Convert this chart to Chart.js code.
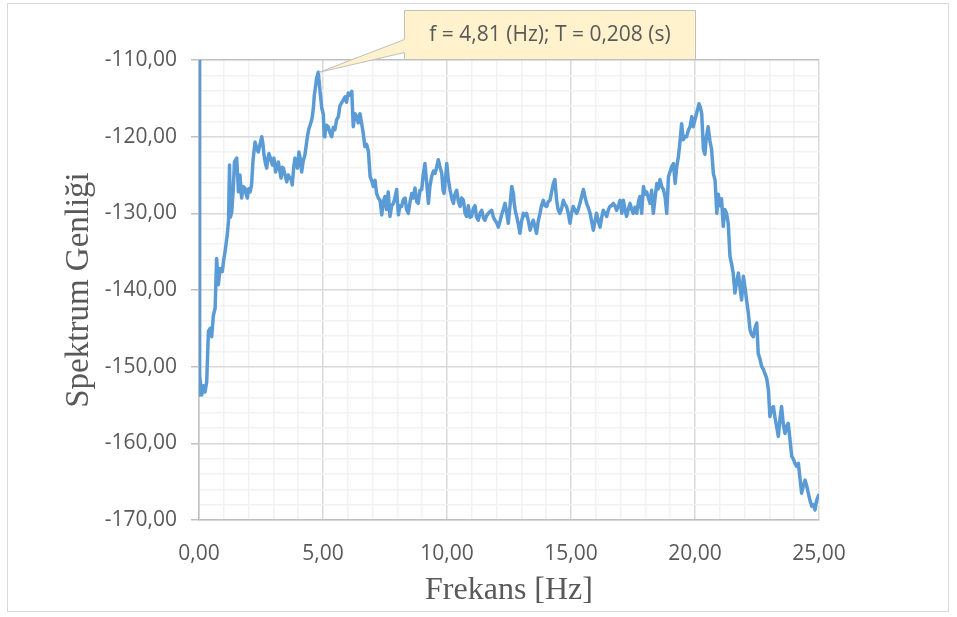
<!DOCTYPE html>
<html>
<head>
<meta charset="utf-8">
<script src="https://cdn.jsdelivr.net/npm/chart.js@4"></script>
<style>
  html, body { margin: 0; padding: 0; background: #ffffff; }
  canvas { display: block; }
</style>
</head>
<body>
<canvas id="c" width="957" height="617"></canvas>
<script>
// Frequency axis values (Hz)
const freq = [
  0.00, 0.01, 0.04, 0.11, 0.18, 0.24, 0.31, 0.38, 0.45, 0.51, 0.58, 0.65, 0.71, 0.78, 0.85, 0.94,
  1.00, 1.05, 1.14, 1.19, 1.23, 1.27, 1.32, 1.38, 1.43, 1.52, 1.59, 1.65, 1.72, 1.78, 1.85, 1.90, 1.95,
  2.00, 2.06, 2.12, 2.18, 2.26, 2.32, 2.39, 2.46, 2.53, 2.58, 2.62, 2.68, 2.73, 2.78, 2.82, 2.90, 2.96,
  3.02, 3.09, 3.15, 3.20, 3.26, 3.31, 3.36, 3.40, 3.47, 3.54, 3.60, 3.67, 3.72, 3.76, 3.82, 3.87, 3.92, 3.97,
  4.03, 4.09, 4.14, 4.20, 4.27, 4.33, 4.38, 4.43, 4.48, 4.53, 4.57, 4.62, 4.65, 4.70, 4.74, 4.81, 4.85, 4.88, 4.95,
  5.01, 5.05, 5.08, 5.14, 5.21, 5.28, 5.35, 5.41, 5.48, 5.55, 5.62, 5.68, 5.75, 5.82, 5.89, 5.95,
  6.02, 6.09, 6.16, 6.22, 6.29, 6.36, 6.42, 6.49, 6.56, 6.62, 6.69, 6.76, 6.83, 6.90, 6.97,
  7.03, 7.10, 7.16, 7.23, 7.30, 7.37, 7.43, 7.50, 7.56, 7.63, 7.70, 7.77, 7.84, 7.90, 7.97,
  8.04, 8.10, 8.17, 8.24, 8.31, 8.37, 8.44, 8.51, 8.58, 8.64, 8.71, 8.78, 8.84, 8.91, 8.98,
  9.04, 9.11, 9.18, 9.25, 9.31, 9.38, 9.45, 9.52, 9.58, 9.65, 9.72, 9.79, 9.84, 9.88, 9.94, 9.99,
  10.05, 10.12, 10.19, 10.26, 10.32, 10.39, 10.46, 10.53, 10.59, 10.66, 10.73, 10.79, 10.86, 10.93, 10.99,
  11.06, 11.13, 11.19, 11.26, 11.33, 11.40, 11.47, 11.53, 11.60, 11.67, 11.73, 11.80, 11.87, 11.93,
  12.00, 12.07, 12.14, 12.20, 12.27, 12.34, 12.40, 12.47, 12.54, 12.61, 12.68, 12.71, 12.76, 12.81, 12.88, 12.94,
  13.01, 13.08, 13.14, 13.21, 13.28, 13.35, 13.41, 13.48, 13.55, 13.61, 13.68, 13.75, 13.81, 13.88, 13.95,
  14.02, 14.08, 14.15, 14.22, 14.29, 14.35, 14.42, 14.48, 14.55, 14.62, 14.69, 14.75, 14.82, 14.89, 14.96,
  15.02, 15.09, 15.16, 15.23, 15.29, 15.36, 15.43, 15.50, 15.56, 15.63, 15.70, 15.77, 15.83, 15.90, 15.97,
  16.03, 16.10, 16.17, 16.24, 16.30, 16.37, 16.44, 16.51, 16.57, 16.64, 16.71, 16.77, 16.84, 16.91, 16.98,
  17.05, 17.11, 17.18, 17.24, 17.31, 17.38, 17.45, 17.51, 17.58, 17.65, 17.72, 17.78, 17.85, 17.92, 17.99,
  18.05, 18.12, 18.19, 18.25, 18.32, 18.39, 18.46, 18.52, 18.59, 18.66, 18.73, 18.80, 18.86, 18.93,
  19.00, 19.06, 19.13, 19.20, 19.26, 19.33, 19.40, 19.46, 19.53, 19.60, 19.66, 19.73, 19.80, 19.87, 19.93, 19.98,
  20.03, 20.10, 20.16, 20.22, 20.27, 20.34, 20.40, 20.46, 20.53, 20.60, 20.67, 20.74, 20.81, 20.88, 20.94,
  21.00, 21.07, 21.14, 21.20, 21.27, 21.34, 21.41, 21.47, 21.54, 21.61, 21.68, 21.75, 21.81, 21.88, 21.95,
  22.01, 22.08, 22.15, 22.22, 22.28, 22.35, 22.42, 22.49, 22.55, 22.62, 22.69, 22.75, 22.82, 22.89, 22.96,
  23.02, 23.09, 23.16, 23.22, 23.29, 23.36, 23.42, 23.49, 23.56, 23.63, 23.69, 23.76, 23.83, 23.90, 23.96,
  24.03, 24.10, 24.17, 24.23, 24.30, 24.37, 24.44, 24.50, 24.57, 24.64, 24.71, 24.77, 24.84, 24.90, 24.97, 25.00
];

// Spectrum amplitude values
const amp = [
  -110.0, -153.7, -151.1, -153.7, -152.5, -153.3, -152.0, -145.4, -145.0, -146.1, -143.3, -142.4, -135.9, -139.3, -137.2, -137.6,
  -136.0, -135.0, -132.8, -131.0, -123.7, -130.5, -129.8, -127.0, -123.3, -122.8, -127.2, -125.0, -128.0, -126.5, -126.7, -127.5, -128.0,
  -126.8, -127.2, -126.3, -123.0, -120.7, -121.5, -122.0, -121.0, -120.0, -121.0, -122.4, -123.5, -124.1, -122.8, -122.2, -123.0, -123.7,
  -122.8, -124.6, -123.8, -123.3, -124.5, -125.4, -124.0, -124.1, -125.0, -125.9, -125.0, -125.4, -125.6, -126.3, -124.0, -122.8, -123.5, -124.1,
  -122.0, -123.0, -124.6, -123.2, -122.4, -121.0, -119.8, -119.0, -118.5, -118.0, -117.4, -116.0, -114.6, -113.5, -112.4, -111.6, -113.0, -114.1, -116.3,
  -117.0, -120.0, -119.6, -118.5, -118.7, -119.5, -120.0, -118.8, -119.1, -117.8, -117.4, -116.0, -115.6, -115.2, -114.8, -115.5,
  -114.3, -114.6, -114.1, -118.7, -117.0, -117.4, -118.2, -117.0, -118.3, -119.5, -121.3, -121.0, -121.9, -125.2, -125.8,
  -126.5, -125.7, -127.4, -128.0, -128.3, -130.2, -128.5, -127.8, -129.5, -127.2, -130.4, -129.0, -128.7, -128.0, -126.9,
  -130.2, -129.0, -129.1, -128.2, -128.0, -129.5, -130.0, -128.5, -127.4, -128.0, -126.7, -128.5, -128.7, -127.0, -126.9,
  -125.0, -123.5, -126.0, -128.7, -126.5, -125.2, -124.5, -124.8, -124.0, -123.0, -124.0, -124.8, -127.0, -127.4, -125.5, -123.5,
  -125.5, -126.9, -128.0, -128.7, -127.5, -127.0, -128.5, -129.1, -128.0, -128.3, -130.0, -130.4, -129.0, -130.5, -130.4,
  -129.4, -129.0, -130.5, -130.9, -130.0, -129.6, -130.6, -130.9, -130.3, -130.0, -129.8, -129.6, -130.5, -130.9,
  -131.2, -131.8, -131.0, -130.2, -129.5, -128.7, -129.8, -131.3, -129.0, -126.5, -127.5, -128.7, -129.8, -130.4, -131.5, -132.6,
  -131.0, -130.0, -130.3, -130.0, -131.0, -132.2, -131.5, -130.9, -131.8, -132.6, -131.0, -130.0, -129.0, -128.3, -129.0,
  -129.1, -128.5, -128.3, -127.2, -126.1, -125.6, -128.3, -129.5, -130.0, -129.4, -128.3, -128.8, -129.1, -130.0, -131.3,
  -130.0, -129.1, -129.6, -130.0, -129.5, -128.7, -127.8, -126.9, -127.8, -128.7, -129.3, -130.0, -131.0, -132.2, -131.0,
  -130.0, -131.0, -131.8, -130.5, -129.6, -130.0, -130.4, -129.5, -129.1, -129.0, -128.7, -129.0, -129.6, -129.0, -128.3,
  -130.0, -128.3, -129.5, -130.4, -129.5, -128.7, -129.5, -130.0, -129.2, -130.0, -128.5, -127.8, -130.0, -126.5, -127.5,
  -127.2, -128.0, -128.7, -127.0, -130.0, -128.0, -126.1, -126.8, -125.6, -126.5, -126.9, -128.0, -130.0, -125.2,
  -124.5, -123.9, -123.5, -126.1, -124.0, -122.6, -120.5, -118.3, -120.4, -120.0, -120.0, -119.2, -118.7, -117.4, -118.7, -118.0,
  -117.4, -116.5, -115.7, -116.2, -117.0, -121.7, -122.3, -120.0, -118.7, -120.5, -121.7, -124.8, -125.7, -130.0, -127.5,
  -129.0, -128.1, -131.7, -129.5, -130.0, -131.3, -135.6, -136.5, -137.8, -140.4, -139.0, -137.8, -139.5, -141.3, -138.2,
  -139.5, -141.3, -143.0, -145.2, -145.8, -146.1, -145.0, -144.3, -148.3, -149.0, -150.0, -150.3, -150.9, -151.5, -153.0,
  -156.5, -155.5, -155.2, -156.5, -157.8, -159.1, -157.0, -155.2, -157.5, -158.7, -157.8, -157.4, -159.5, -161.7, -162.0,
  -162.6, -163.0, -162.6, -164.5, -166.5, -165.5, -164.8, -165.5, -166.5, -167.5, -168.2, -168.0, -168.7, -167.5, -166.9, -166.6
];

// Axis settings
const xMin = 0, xMax = 25, xStep = 1, xMajor = 5;
const yMin = -170, yMax = -110, yStep = 2, yMajor = 10;
const xTitle = 'Frekans [Hz]';
const yTitle = 'Spektrum Genliği';

// Callout
const peakFreq = 4.81;
const peakAmp = -111.6;
const calloutText = 'f = 4,81 (Hz); T = 0,208 (s)';

const fmt = v => v.toFixed(2).replace('.', ',');
const isMult = (v, m) => Math.abs(v / m - Math.round(v / m)) < 1e-9;

const points = freq.map((f, i) => ({ x: f, y: amp[i] }));

const frame = {
  id: 'frame',
  beforeDraw(chart) {
    const c = chart.ctx;
    c.save();
    c.fillStyle = '#ffffff';
    c.fillRect(0, 0, chart.width, chart.height);
    c.strokeStyle = '#D9D9D9';
    c.lineWidth = 1;
    c.strokeRect(7.5, 3.5, 941, 608);
    c.restore();
  }
};

const callout = {
  id: 'callout',
  afterDraw(chart) {
    const c = chart.ctx;
    const px = chart.scales.x.getPixelForValue(peakFreq);
    const py = chart.scales.y.getPixelForValue(peakAmp);
    const bx = 404.5, by = 10.5, bw = 291, bh = 49;
    c.save();
    c.fillStyle = '#FFF2CC';
    c.strokeStyle = '#BFBFBF';
    c.lineWidth = 1;
    c.beginPath();
    c.moveTo(bx, by);
    c.lineTo(bx + bw, by);
    c.lineTo(bx + bw, by + bh);
    c.lineTo(bx, by + bh);
    c.lineTo(bx, by + 42);
    c.lineTo(px + 1, py);
    c.lineTo(bx, by + 29);
    c.closePath();
    c.fill();
    c.stroke();
    c.fillStyle = '#595959';
    c.font = '21px "Open Sans"';
    c.textAlign = 'center';
    c.textBaseline = 'middle';
    c.fillText(calloutText, bx + bw / 2, by + bh / 2);
    c.restore();
  }
};

new Chart(document.getElementById('c'), {
  type: 'line',
  data: {
    datasets: [{
      data: points,
      borderColor: '#5B9BD5',
      borderWidth: 3.5,
      borderJoinStyle: 'round',
      pointRadius: 0,
      tension: 0,
      fill: false
    }]
  },
  options: {
    responsive: false,
    devicePixelRatio: 1,
    animation: false,
    layout: { padding: { left: 40, right: 138, top: 60, bottom: 0 } },
    plugins: { legend: { display: false }, tooltip: { enabled: false } },
    scales: {
      x: {
        type: 'linear',
        min: xMin, max: xMax,
        afterFit: s => { s.height = 97; },
        ticks: {
          stepSize: xStep, autoSkip: false, maxRotation: 0, padding: 13,
          color: '#595959', font: { family: 'Open Sans', size: 21 },
          callback: v => isMult(v, xMajor) ? fmt(v) : ''
        },
        grid: {
          color: ctx => isMult(ctx.tick.value, xMajor) ? '#D9D9D9' : '#F2F2F2',
          lineWidth: 1.5,
          tickColor: 'transparent',
          tickLength: 8
        },
        border: { color: '#BFBFBF', width: 1.5 },
        title: {
          display: true, text: xTitle, color: '#595959',
          font: { family: 'Liberation Serif', size: 32 },
          padding: { top: 0, bottom: 7 }
        }
      },
      y: {
        min: yMin, max: yMax,
        afterFit: s => { s.width = 159; },
        ticks: {
          stepSize: yStep, autoSkip: false, padding: 14,
          color: '#595959', font: { family: 'Open Sans', size: 21 },
          callback: v => isMult(v, yMajor) ? fmt(v) : ''
        },
        grid: {
          color: ctx => ctx.tick.value === yMax ? '#BFBFBF' : (isMult(ctx.tick.value, yMajor) ? '#D9D9D9' : '#F2F2F2'),
          lineWidth: 1.5,
          tickColor: ctx => isMult(ctx.tick.value, yMajor) ? '#BFBFBF' : 'transparent',
          tickLength: 8
        },
        border: { color: '#BFBFBF', width: 1.5 },
        title: {
          display: true, text: yTitle, color: '#595959',
          font: { family: 'Liberation Serif', size: 33 },
          padding: { top: 20, bottom: 0 }
        }
      }
    }
  },
  plugins: [frame, callout]
});
</script>
</body>
</html>
